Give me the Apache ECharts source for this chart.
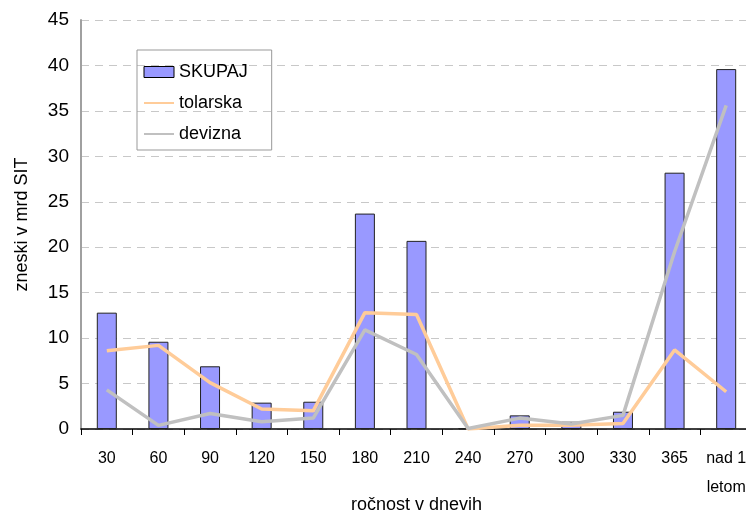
<!DOCTYPE html>
<html>
<head>
<meta charset="utf-8">
<script src="https://cdn.jsdelivr.net/npm/echarts@6/dist/echarts.min.js"></script>
<style>
  html, body { margin: 0; padding: 0; background: #fff; }
  #chart { width: 746px; height: 515px; }
</style>
</head>
<body>
<div id="chart"></div>
<script>
// categories (ročnost v dnevih)
const categories = ["30", "60", "90", "120", "150", "180", "210", "240", "270", "300", "330", "365", "nad 1\nletom"];
// zneski v mrd SIT
const skupaj = [12.8, 9.6, 6.9, 2.9, 3.0, 23.7, 20.7, 0.1, 1.5, 0.8, 1.9, 28.2, 39.6];
const tolarska = [8.6, 9.2, 5.1, 2.2, 2.0, 12.8, 12.6, 0.0, 0.4, 0.4, 0.6, 8.7, 4.1];
const devizna = [4.3, 0.4, 1.7, 0.8, 1.2, 10.9, 8.2, 0.05, 1.2, 0.55, 1.5, 19.5, 35.6];

const font = "Liberation Sans, Arial, sans-serif";

const chart = echarts.init(document.getElementById("chart"));

const option = {
  animation: false,
  textStyle: { fontFamily: font },
  legend: {
    orient: "vertical",
    left: 137,
    top: 50,
    padding: [13, 24, 7, 6],
    itemGap: 13,
    itemWidth: 30,
    itemHeight: 11,
    borderColor: "#999",
    borderWidth: 1,
    textStyle: { fontSize: 18, color: "#000", fontFamily: font },
    data: [
      { name: "SKUPAJ", icon: "rect", itemStyle: { borderColor: "#000", borderWidth: 1 } },
      { name: "tolarska", itemStyle: { opacity: 0 } },
      { name: "devizna", itemStyle: { opacity: 0 } },
    ],
  },
  grid: {
    left: 81,
    right: -6,
    top: 20,
    bottom: 86,
    outerBoundsMode: "none",
  },
  xAxis: {
    type: "category",
    data: categories,
    name: "ročnost v dnevih",
    nameLocation: "middle",
    nameGap: 67,
    nameMoveOverlap: false,
    nameTextStyle: { fontSize: 18, color: "#000", fontFamily: font },
    axisLine: { lineStyle: { color: "#000", width: 1.5 } },
    axisTick: { show: true, length: 6, lineStyle: { color: "#000" } },
    axisLabel: {
      interval: 0,
      color: "#000",
      fontSize: 16,
      margin: 15,
      lineHeight: 29,
      fontFamily: font,
    },
  },
  yAxis: {
    type: "value",
    min: 0,
    max: 45,
    interval: 5,
    name: "zneski v mrd SIT",
    nameLocation: "middle",
    nameGap: 50,
    nameMoveOverlap: false,
    nameTextStyle: { fontSize: 18, color: "#000", fontFamily: font },
    axisLine: { show: true, lineStyle: { color: "#a0a0a0", width: 2 } },
    axisTick: { show: false },
    axisLabel: { color: "#000", fontSize: 19, margin: 12, fontFamily: font },
    splitLine: { lineStyle: { color: "#c8c8c8", type: [8, 6], width: 1 } },
  },
  series: [
    {
      name: "SKUPAJ",
      type: "bar",
      data: skupaj,
      barWidth: 20,
      itemStyle: { color: "#9999ff", borderColor: "#222", borderWidth: 1 },
    },
    {
      name: "tolarska",
      type: "line",
      data: tolarska,
      symbol: "none",
      lineStyle: { color: "#ffcc99", width: 3.5 },
      itemStyle: { color: "#ffcc99" },
    },
    {
      name: "devizna",
      type: "line",
      data: devizna,
      symbol: "none",
      lineStyle: { color: "#c0c0c0", width: 3.5 },
      itemStyle: { color: "#c0c0c0" },
    },
  ],
};

chart.setOption(option);
</script>
</body>
</html>
